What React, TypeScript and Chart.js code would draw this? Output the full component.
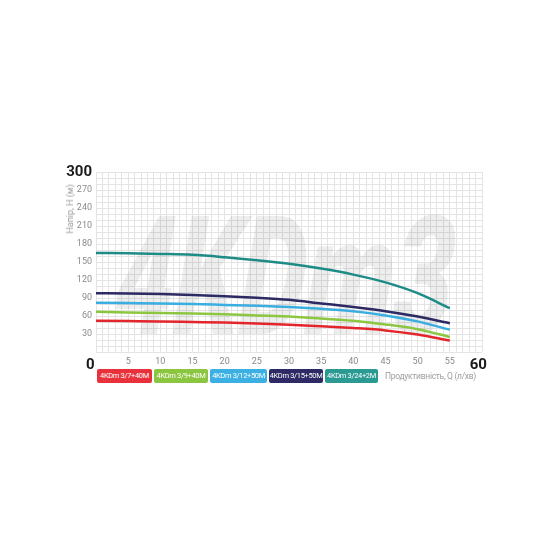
import { useEffect, useRef } from "react";
import { Chart, registerables } from "chart.js";

Chart.register(...registerables);

// flow Q (л/хв) and head H (м) per pump
const Q = [0, 5, 10, 15, 20, 25, 30, 35, 40, 45, 50, 55];
const H_3_7 = [52, 51.5, 51, 50, 49, 47.5, 45.5, 43, 40, 36, 29, 19];
const H_3_9 = [67, 66, 65, 64, 63, 61, 59, 56, 52, 46, 38, 25];
const H_3_12 = [82, 81.5, 81, 80, 78.5, 77, 75, 72, 68, 61, 51, 37];
const H_3_15 = [98, 97.5, 96.5, 95, 93, 90.5, 87, 81, 75, 68, 59, 48];
const H_3_24 = [165, 164.5, 163.5, 162, 158, 153, 147, 139, 129, 116, 98, 73];

const NAMES = ["4KDm 3/7+40M", "4KDm 3/9+40M", "4KDm 3/12+50M", "4KDm 3/15+50M", "4KDm 3/24+2M"];
const SERIES = [H_3_7, H_3_9, H_3_12, H_3_15, H_3_24];
const LINE_COLORS = ["#e3262b", "#8dc641", "#3aaee0", "#2c2a63", "#1d8c87"];
const BOX_COLORS = ["#e8313a", "#8cc540", "#3cb0e2", "#2d2a66", "#2a9a93"];
const BOX_WIDTHS = [55, 54, 57, 54, 53];

const WATERMARK = "4KDm3";
const X_TITLE = "Продуктивність, Q (л/хв)";
const Y_TITLE = "Напір, H (м)";

const FONT = '"Roboto", sans-serif';

const big = (v: number | undefined, ends: number[]) => v !== undefined && ends.includes(v);

const watermark = {
  id: "watermark",
  beforeDatasetsDraw(chart: Chart) {
    const { ctx, chartArea } = chart;
    ctx.save();
    ctx.font = `900 166px ${FONT}`;
    const w = ctx.measureText(WATERMARK).width;
    ctx.translate(chartArea.left + 12, chartArea.top + 162);
    ctx.transform(1, 0, -0.16, 1, 0, 0);
    ctx.scale(338 / w, 1);
    ctx.fillStyle = "rgba(0,0,0,0.065)";
    ctx.fillText(WATERMARK, 0, 0);
    ctx.restore();
  },
};

export default function App() {
  const canvasRef = useRef<HTMLCanvasElement>(null);

  useEffect(() => {
    const canvas = canvasRef.current;
    if (!canvas) return;
    const chart = new Chart(canvas, {
      type: "line",
      data: {
        datasets: SERIES.map((s, i) => ({
          label: NAMES[i],
          data: s.map((h, k) => ({ x: Q[k], y: h })),
          borderColor: LINE_COLORS[i],
          borderWidth: 2.5,
          pointRadius: 0,
          cubicInterpolationMode: "monotone" as const,
          fill: false,
        })),
      },
      options: {
        animation: false,
        responsive: true,
        maintainAspectRatio: false,
        layout: { padding: { left: 50, top: 172, right: 68, bottom: 178 } },
        plugins: { legend: { display: false }, tooltip: { enabled: false } },
        scales: {
          x: {
            type: "linear",
            min: 0,
            max: 60,
            afterFit: (s: any) => { s.height = 20; },
            ticks: {
              stepSize: 1,
              autoSkip: false,
              maxRotation: 0,
              padding: 4,
              callback: (v: any) => (v === 0 ? "0   " : v === 60 ? "60  " : v % 5 === 0 ? String(v) : ""),
              color: (c: any) => (big(c.tick?.value, [0, 60]) ? "#1a1a1a" : "#8a8a8a"),
              font: (c: any) =>
                big(c.tick?.value, [0, 60])
                  ? { family: FONT, size: 15, weight: "bold" }
                  : { family: FONT, size: 9 },
            },
            grid: { color: "#e4e4e4", lineWidth: 1, drawTicks: false },
            border: { display: false },
          },
          y: {
            min: 0,
            max: 300,
            afterFit: (s: any) => { s.width = 46; },
            ticks: {
              stepSize: 10,
              autoSkip: false,
              padding: 4,
              callback: (v: any) => (v !== 0 && v % 30 === 0 ? String(v) : ""),
              color: (c: any) => (big(c.tick?.value, [300]) ? "#1a1a1a" : "#8a8a8a"),
              font: (c: any) =>
                big(c.tick?.value, [300])
                  ? { family: FONT, size: 15, weight: "bold" }
                  : { family: FONT, size: 9 },
            },
            grid: { color: "#e4e4e4", lineWidth: 1, drawTicks: false },
            border: { display: false },
          },
        },
      },
      plugins: [watermark],
    });
    return () => chart.destroy();
  }, []);

  return (
    <div style={{ position: "absolute", left: 0, top: 0, width: 550, height: 550, background: "#fff", fontFamily: FONT }}>
      <canvas ref={canvasRef} />
      <div
        style={{
          position: "absolute",
          left: 70,
          top: 209,
          transform: "translate(-50%, -50%) rotate(-90deg)",
          fontSize: 9,
          color: "#9a9a9a",
          whiteSpace: "nowrap",
        }}
      >
        {Y_TITLE}
      </div>
      <div style={{ position: "absolute", left: 97, top: 369, display: "flex", alignItems: "center", gap: 2 }}>
        {NAMES.map((n, i) => (
          <span
            key={n}
            style={{
              width: BOX_WIDTHS[i],
              background: BOX_COLORS[i],
              color: "#fff",
              fontSize: 7.5,
              letterSpacing: -0.35,
              lineHeight: "14px",
              height: 14,
              textAlign: "center",
              borderRadius: 2,
              whiteSpace: "nowrap",
              overflow: "hidden",
            }}
          >
            {n}
          </span>
        ))}
        <span style={{ marginLeft: 5, fontSize: 8.5, letterSpacing: -0.3, color: "#a0a0a0", whiteSpace: "nowrap" }}>
          {X_TITLE}
        </span>
      </div>
    </div>
  );
}
